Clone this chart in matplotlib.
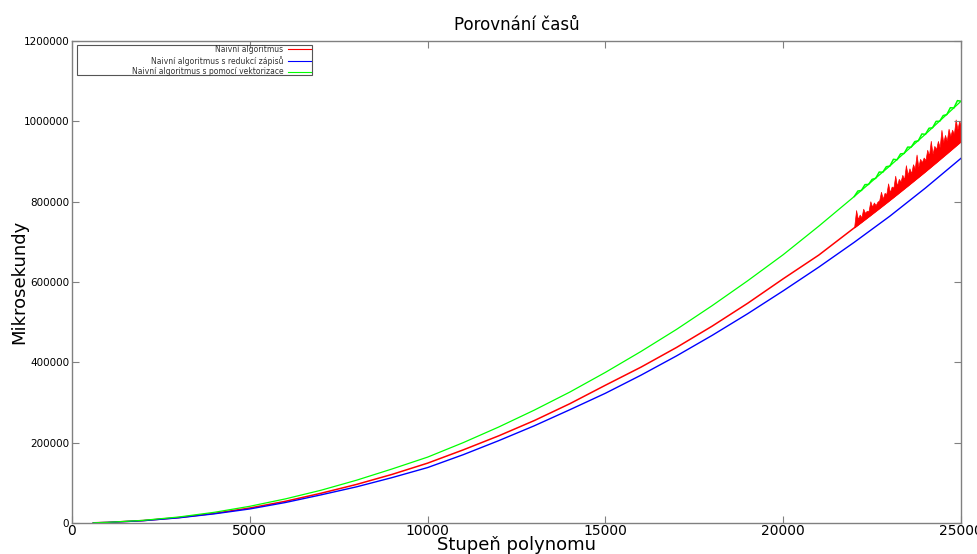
import matplotlib
matplotlib.use("Agg")
import matplotlib.pyplot as plt
from matplotlib.patches import Rectangle
import warnings
warnings.filterwarnings("ignore")

# ---- data ----
degree = [600, 1000, 2000, 3000, 4000, 5000, 6000, 7000, 8000, 9000, 10000,
          11000, 12000, 13000, 14000, 15000, 16000, 17000, 18000, 19000, 20000,
          21000, 22000, 23000, 24000, 25000]

naive = [500, 1500, 6000, 13500, 24000, 37300, 54000, 74000, 96000, 121000, 149000,
         182000, 217000, 255000, 297000, 343000, 388000, 437000, 490000, 547000, 608000,
         667000, 735000, 804000, 875000, 950000]

reduced = [450, 1400, 5700, 12900, 22800, 35000, 51000, 70000, 90000, 113000, 138000,
           170000, 205000, 242000, 282000, 323000, 368000, 416000, 467000, 521000, 578000,
           637000, 699000, 764000, 834000, 908000]

vectorized = [550, 1600, 6600, 14900, 26600, 41600, 60000, 81500, 106500, 134500, 164000,
              200000, 239000, 281000, 326000, 375000, 427000, 482000, 541000, 603000, 668000,
              739000, 813000, 889000, 968000, 1050000]

# noisy tail of the naive series (22000..25000, every 50), lower and upper edge, in thousands
naive_tail_x = [22000 + 50 * i for i in range(61)]
naive_tail_low = [735.7, 739.1, 742.4, 745.8, 749.1, 752.5, 755.9, 759.3, 762.7, 766.1,
                  769.5, 773.0, 776.4, 779.8, 783.2, 786.7, 790.2, 793.7, 797.1, 800.6,
                  804.1, 807.6, 811.1, 814.6, 818.1, 821.7, 825.2, 828.8, 832.3, 835.9,
                  839.4, 843.0, 846.6, 850.2, 853.8, 857.4, 861.0, 864.6, 868.2, 871.9,
                  875.5, 879.2, 882.8, 886.5, 890.2, 893.9, 897.5, 901.2, 904.9, 908.7,
                  912.4, 916.1, 919.8, 923.6, 927.3, 931.1, 934.9, 938.7, 942.4, 946.2,
                  950.0]
naive_tail_high = [740.7, 779.1, 756.4, 767.8, 761.1, 782.5, 771.9, 777.3, 776.7, 801.1,
                   787.5, 798.0, 791.4, 799.8, 803.2, 824.7, 807.2, 821.7, 819.1, 845.6,
                   823.1, 837.6, 835.1, 864.6, 839.1, 856.7, 850.2, 866.8, 855.3, 890.9,
                   866.4, 883.0, 870.6, 893.2, 882.8, 917.4, 887.0, 906.6, 898.2, 909.9,
                   903.5, 929.2, 914.8, 951.5, 919.2, 938.9, 930.5, 951.2, 935.9, 978.7,
                   947.4, 966.1, 951.8, 981.6, 963.3, 979.1, 968.9, 1004.7, 980.4, 1001.2,
                   990.0]

# noisy tail of the vectorized series (22000..25000, every 100), in thousands
vect_tail_x = [22000 + 100 * i for i in range(31)]
vect_tail_y = [813.1, 826.5, 828.0, 842.4, 842.9, 855.5, 858.1, 873.7, 873.3, 887.0,
               888.7, 905.5, 904.2, 919.0, 919.9, 935.8, 935.7, 949.6, 951.6, 968.6,
               967.7, 982.8, 983.9, 1000.0, 1000.2, 1014.4, 1016.7, 1033.9, 1033.3, 1051.6,
               1050.0]

labels = ["Naivní algoritmus",
          "Naivní algoritmus s redukcí zápisů",
          "Naivní algoritmus s pomocí vektorizace"]
colors = ["#ff0000", "#0000ff", "#00ff00"]

x_ticks = [0, 5000, 10000, 15000, 20000, 25000]
y_ticks = [0, 200000, 400000, 600000, 800000, 1000000, 1200000]

# ---- figure ----
plt.rcParams['font.family'] = ['DejaVu Sans']
fig = plt.figure(figsize=(9.78, 5.54), dpi=100)
ax = fig.add_axes([72 / 978, 31 / 554, 889 / 978, 482 / 554])

l1, = ax.plot(degree, naive, color=colors[0], lw=1.1, label=labels[0])
ax.fill_between(naive_tail_x, [v * 1000 for v in naive_tail_low],
                [v * 1000 for v in naive_tail_high], color=colors[0], lw=0.5,
                edgecolor=colors[0])
l2, = ax.plot(degree, reduced, color=colors[1], lw=1.0, label=labels[1])
l3, = ax.plot(degree, vectorized, color=colors[2], lw=0.9, label=labels[2])
ax.plot(vect_tail_x, [v * 1000 for v in vect_tail_y], color=colors[2], lw=1.1)

ax.set_xlim(0, 25000)
ax.set_ylim(0, 1200000)
ax.set_xticks(x_ticks)
ax.set_yticks(y_ticks)
ax.set_xticklabels([str(t) for t in x_ticks],
                   fontfamily=['DejaVu Sans Condensed', 'Liberation Sans Narrow', 'DejaVu Sans'],
                   fontsize=10)
ax.set_yticklabels([str(t) for t in y_ticks], fontsize=7.5)
ax.tick_params(axis='both', direction='in', length=5, width=0.8, color='#808080',
               top=True, right=True, pad=2)
ax.tick_params(axis='x', pad=1)
for s in ax.spines.values():
    s.set_color('#808080')
    s.set_linewidth(1.0)

ax.set_title("Porovnání časů", fontsize=12, pad=8)
ax.set_xlabel("Stupeň polynomu", fontsize=13)
ax.xaxis.set_label_coords(0.5, -0.027)
ax.set_ylabel("Mikrosekundy", fontsize=13)
ax.yaxis.set_label_coords(-0.049, 0.5)

leg = ax.legend(handles=[l1, l2, l3], loc='upper right', bbox_to_anchor=(0.271, 0.997),
                markerfirst=False, frameon=False, fontsize=5.5, handlelength=3.0,
                labelspacing=0.25, handletextpad=0.6, borderpad=0.3, borderaxespad=0)
for t in leg.get_texts():
    t.set_color('#333333')
for h in leg.legend_handles:
    h.set_linewidth(0.8)
ax.add_patch(Rectangle((5 / 889, (523 - 75) / 482), (312 - 77) / 889, 30 / 482,
                       transform=ax.transAxes, fill=False, edgecolor='#555555',
                       lw=0.8, zorder=5))

fig.savefig("out.png", dpi=100)
